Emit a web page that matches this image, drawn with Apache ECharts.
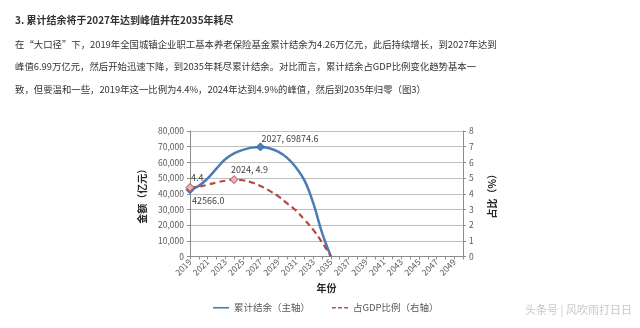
<!DOCTYPE html>
<html>
<head>
<meta charset="utf-8">
<script src="https://cdn.jsdelivr.net/npm/echarts@6/dist/echarts.min.js"></script>
<style>
html,body{margin:0;padding:0;background:#fff;}
#chart{width:640px;height:328px;}
</style>
</head>
<body>
<div id="chart"></div>
<script>
const years = ['2019','2020','2021','2022','2023','2024','2025','2026','2027','2028','2029','2030','2031','2032','2033','2034','2035','2036','2037','2038','2039','2040','2041','2042','2043','2044','2045','2046','2047','2048','2049','2050'];
const balance = [42566.0, 45000, 49800, 56000, 62000, 65700, 68000, 69400, 69874.6, 69000, 66800, 63000, 57000, 48500, 34000, 15000, 0];
const gdpRatio = [4.4, 4.45, 4.57, 4.72, 4.83, 4.9, 4.86, 4.72, 4.5, 4.2, 3.85, 3.4, 2.95, 2.35, 1.7, 0.9, 0];
const leftTicks = [0, 10000, 20000, 30000, 40000, 50000, 60000, 70000, 80000];
const rightTicks = [0, 1, 2, 3, 4, 5, 6, 7, 8];
const seriesNames = ['累计结余（主轴）', '占GDP比例（右轴）'];
const titleText = '3. 累计结余将于2027年达到峰值并在2035年耗尽';
const bodyLines = [
  '在“大口径”下，2019年全国城镇企业职工基本养老保险基金累计结余为4.26万亿元，此后持续增长，到2027年达到',
  '峰值6.99万亿元，然后开始迅速下降，到2035年耗尽累计结余。对比而言，累计结余占GDP比例变化趋势基本一',
  '致，但要温和一些，2019年这一比例为4.4%，2024年达到4.9%的峰值，然后到2035年归零（图3）'
];
const watermark = '头条号 | 风吹雨打日日';

const FONT = '"Noto Sans CJK SC", "Noto Sans", sans-serif';
const blue = '#4a7db4';
const red = '#b24a44';

const blueLabels = {
  0: {fmt: p => Number(p.value).toFixed(1), pos: [6.5, 15.5]},
  8: {fmt: p => p.name + ', ' + p.value, pos: [5.5, -3.5]}
};
const redLabels = {
  0: {fmt: p => String(p.value), pos: [5.5, -5]},
  5: {fmt: p => p.name + ', ' + p.value, pos: [1.5, -5.3]}
};

function buildData(values, labels, fill, border) {
  return values.map((v, i) => {
    const l = labels[i];
    if (!l) return {value: v, symbolSize: 0};
    return {
      value: v,
      symbol: 'diamond',
      symbolSize: 8,
      itemStyle: {color: fill, borderColor: border, borderWidth: 1},
      label: {
        show: true, formatter: l.fmt, position: l.pos,
        align: 'left', verticalAlign: 'middle',
        color: '#404040', fontSize: 9, fontFamily: FONT
      }
    };
  });
}

const chart = echarts.init(document.getElementById('chart'), null, {renderer: 'canvas'});
const graphics = [
  {type: 'text', left: 15, top: 15, style: {text: titleText, font: 'bold 10px ' + FONT, fill: '#333'}},
  {type: 'text', left: 15, top: 40, style: {text: bodyLines[0], font: '9.4px ' + FONT, fill: '#333'}},
  {type: 'text', left: 15, top: 62, style: {text: bodyLines[1], font: '9.4px ' + FONT, fill: '#333'}},
  {type: 'text', left: 15, top: 85, style: {text: bodyLines[2], font: '9.4px ' + FONT, fill: '#333'}},
  {type: 'text', left: 525, top: 304, style: {text: watermark, font: '11px ' + FONT, fill: '#c8c8c8'}}
];

chart.setOption({
  animation: false,
  backgroundColor: '#fff',
  textStyle: {fontFamily: FONT},
  graphic: graphics,
  grid: {left: 190, right: 177, top: 131, bottom: 71.5, containLabel: false},
  legend: {
    left: 208, top: 298, itemGap: 22, itemWidth: 16, itemHeight: 3,
    textStyle: {fontSize: 9.5, color: '#595959', fontFamily: FONT},
    data: [
      {name: seriesNames[0], icon: 'path://M0,0H30V3H0Z', itemStyle: {color: blue}},
      {name: seriesNames[1], icon: 'path://M0,0H7V3H0ZM11.5,0H18.5V3H11.5ZM23,0H30V3H23Z', itemStyle: {color: red}}
    ]
  },
  xAxis: {
    type: 'category', data: years, boundaryGap: false,
    name: '年份', nameLocation: 'middle', nameGap: 27,
    nameTextStyle: {fontWeight: 'bold', fontSize: 10, color: '#262626', fontFamily: FONT},
    axisLine: {lineStyle: {color: '#8c8c8c'}},
    axisTick: {show: true, interval: 0, length: 3, lineStyle: {color: '#8c8c8c'}},
    axisLabel: {interval: 1, rotate: 45, fontSize: 8.5, color: '#595959', margin: 4, fontFamily: FONT},
    splitLine: {show: false}
  },
  yAxis: [
    {
      type: 'value', min: leftTicks[0], max: leftTicks[leftTicks.length - 1], interval: leftTicks[1] - leftTicks[0],
      name: '金额（亿元）', nameLocation: 'middle', nameGap: 43,
      nameTextStyle: {fontWeight: 'bold', fontSize: 10, color: '#262626', fontFamily: FONT},
      axisLine: {show: true, lineStyle: {color: '#8c8c8c'}},
      axisTick: {show: true, length: 3, lineStyle: {color: '#8c8c8c'}},
      axisLabel: {fontSize: 8.5, color: '#595959', margin: 6, formatter: v => v.toLocaleString('en-US'), fontFamily: FONT},
      splitLine: {show: true, lineStyle: {color: '#bfbfbf', width: 1}}
    },
    {
      type: 'value', min: rightTicks[0], max: rightTicks[rightTicks.length - 1], interval: rightTicks[1] - rightTicks[0],
      position: 'right',
      name: '占比（%）', nameLocation: 'middle', nameGap: 24, nameRotate: 90,
      nameTextStyle: {fontWeight: 'bold', fontSize: 10, color: '#262626', fontFamily: FONT},
      axisLine: {show: true, lineStyle: {color: '#8c8c8c'}},
      axisTick: {show: true, length: 3, lineStyle: {color: '#8c8c8c'}},
      axisLabel: {fontSize: 8.5, color: '#595959', margin: 6, fontFamily: FONT},
      splitLine: {show: false}
    }
  ],
  series: [
    {
      name: seriesNames[0], type: 'line', yAxisIndex: 0, smooth: 0.4,
      symbol: 'diamond', showAllSymbol: true,
      data: buildData(balance, blueLabels, blue, '#3b6a9e'),
      lineStyle: {color: blue, width: 2.5},
      itemStyle: {color: blue}, z: 3
    },
    {
      name: seriesNames[1], type: 'line', yAxisIndex: 1, smooth: 0.4,
      symbol: 'diamond', showAllSymbol: true,
      data: buildData(gdpRatio, redLabels, '#e8b4b1', red),
      lineStyle: {color: red, width: 2.2, type: [6, 4]},
      itemStyle: {color: red}, z: 4
    }
  ]
});
</script>
</body>
</html>
